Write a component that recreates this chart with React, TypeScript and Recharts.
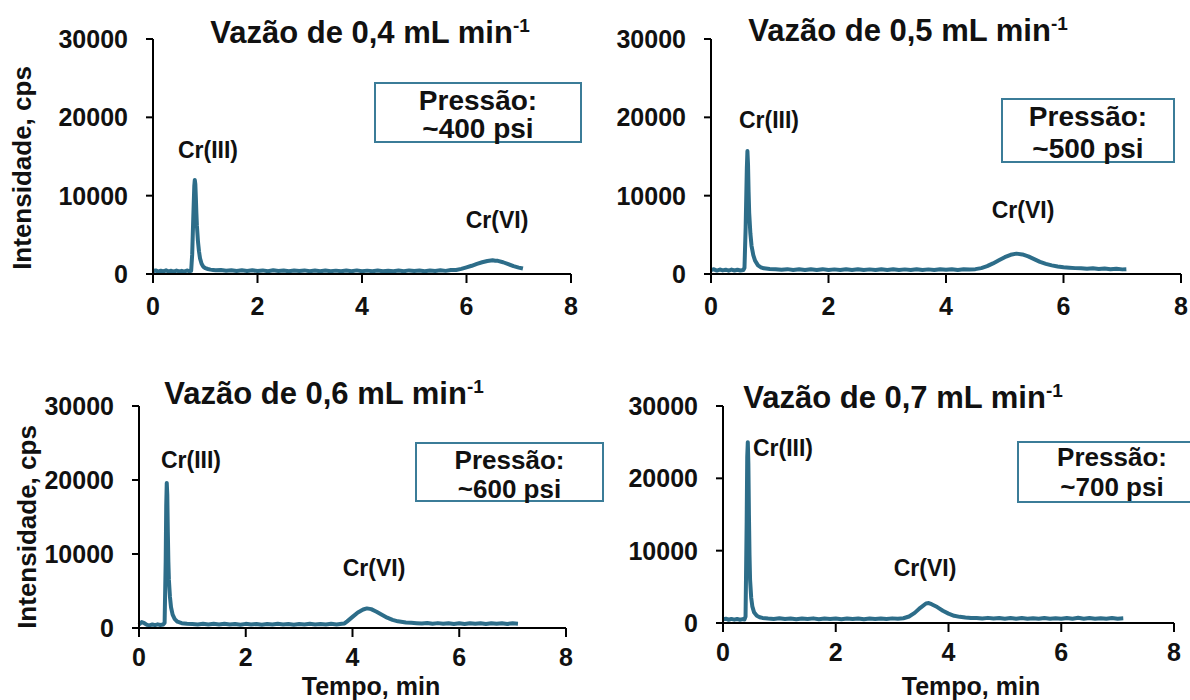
import React from 'react';
import { LineChart, Line, XAxis, YAxis } from 'recharts';

// Chromatogram readings [tempo (min), intensidade (cps)]
const flow04: [number, number][] = [
  [0, 350], [0.05, 460], [0.1, 300], [0.15, 420], [0.2, 340], [0.25, 470], [0.3, 320], [0.35, 410],
  [0.4, 300], [0.45, 440], [0.5, 330], [0.55, 400], [0.6, 310], [0.65, 450], [0.7, 340], [0.73, 400],
  [0.75, 2500], [0.77, 7000], [0.79, 11200], [0.8, 12000], [0.81, 11500], [0.82, 9800], [0.83, 7800],
  [0.84, 6200], [0.86, 4200], [0.88, 2900], [0.9, 2000], [0.93, 1300], [0.96, 950], [1.0, 750],
  [1.05, 640], [1.1, 560], [1.15, 520], [1.2, 480], [1.3, 520], [1.4, 410], [1.5, 490], [1.6, 390],
  [1.7, 480], [1.8, 380], [1.9, 470], [2.0, 370], [2.1, 460], [2.2, 360], [2.3, 480], [2.4, 380],
  [2.5, 450], [2.6, 350], [2.7, 450], [2.8, 370], [2.9, 460], [3.0, 360], [3.1, 440], [3.2, 350],
  [3.3, 450], [3.4, 360], [3.5, 430], [3.6, 340], [3.7, 440], [3.8, 360], [3.9, 460], [4.0, 350],
  [4.1, 430], [4.2, 360], [4.3, 450], [4.4, 350], [4.5, 420], [4.6, 340], [4.7, 440], [4.8, 360],
  [4.9, 460], [5.0, 370], [5.1, 440], [5.2, 360], [5.3, 450], [5.4, 380], [5.5, 470], [5.6, 400],
  [5.7, 500], [5.8, 520], [5.9, 650], [6.0, 850], [6.1, 1050], [6.2, 1300], [6.3, 1500], [6.4, 1650],
  [6.5, 1750], [6.55, 1700], [6.6, 1680], [6.7, 1500], [6.8, 1250], [6.9, 1000], [7.0, 820], [7.08, 700],
];

const flow05: [number, number][] = [
  [0, 500], [0.05, 600], [0.1, 440], [0.15, 570], [0.2, 460], [0.25, 550], [0.3, 430], [0.35, 560],
  [0.4, 450], [0.45, 540], [0.5, 440], [0.55, 500], [0.57, 800], [0.59, 6000], [0.61, 13500],
  [0.62, 15700], [0.63, 14000], [0.64, 10500], [0.65, 7800], [0.67, 5200], [0.69, 3600], [0.72, 2400],
  [0.75, 1700], [0.8, 1100], [0.85, 850], [0.9, 720], [1.0, 640], [1.1, 600], [1.2, 540], [1.3, 620],
  [1.4, 510], [1.5, 600], [1.6, 500], [1.7, 610], [1.8, 520], [1.9, 620], [2.0, 510], [2.1, 590],
  [2.2, 500], [2.3, 610], [2.4, 520], [2.5, 600], [2.6, 500], [2.7, 590], [2.8, 510], [2.9, 610],
  [3.0, 520], [3.1, 600], [3.2, 500], [3.3, 590], [3.4, 510], [3.5, 610], [3.6, 520], [3.7, 590],
  [3.8, 510], [3.9, 610], [4.0, 530], [4.1, 620], [4.2, 520], [4.3, 600], [4.4, 560], [4.5, 620],
  [4.6, 750], [4.7, 1000], [4.8, 1350], [4.9, 1750], [5.0, 2150], [5.1, 2450], [5.2, 2600],
  [5.3, 2500], [5.4, 2250], [5.5, 1900], [5.6, 1550], [5.7, 1300], [5.8, 1100], [5.9, 950],
  [6.0, 850], [6.1, 800], [6.2, 750], [6.3, 720], [6.4, 660], [6.5, 720], [6.6, 630], [6.7, 700],
  [6.8, 600], [6.9, 680], [7.0, 590], [7.07, 620],
];

const flow06: [number, number][] = [
  [0, 450], [0.05, 800], [0.1, 650], [0.15, 420], [0.2, 360], [0.25, 480], [0.3, 380], [0.35, 490],
  [0.4, 400], [0.45, 460], [0.48, 700], [0.5, 9000], [0.51, 16500], [0.52, 19600], [0.53, 18000],
  [0.54, 13000], [0.55, 9000], [0.56, 6500], [0.58, 4200], [0.6, 2800], [0.63, 1800], [0.67, 1200],
  [0.72, 850], [0.8, 650], [0.9, 580], [1.0, 540], [1.1, 480], [1.2, 570], [1.3, 460], [1.4, 560],
  [1.5, 470], [1.6, 570], [1.7, 460], [1.8, 550], [1.9, 450], [2.0, 560], [2.1, 470], [2.2, 550],
  [2.3, 450], [2.4, 540], [2.5, 460], [2.6, 560], [2.7, 470], [2.8, 550], [2.9, 450], [3.0, 540],
  [3.1, 460], [3.2, 560], [3.3, 470], [3.4, 540], [3.5, 460], [3.6, 560], [3.7, 480], [3.8, 570],
  [3.85, 620], [3.9, 900], [4.0, 1500], [4.1, 2100], [4.2, 2500], [4.27, 2650], [4.35, 2550],
  [4.45, 2200], [4.55, 1800], [4.65, 1400], [4.75, 1100], [4.85, 900], [5.0, 750], [5.1, 700],
  [5.2, 650], [5.3, 600], [5.4, 680], [5.5, 580], [5.6, 660], [5.7, 560], [5.8, 650], [5.9, 550],
  [6.0, 640], [6.1, 550], [6.2, 650], [6.3, 560], [6.4, 640], [6.5, 550], [6.6, 650], [6.7, 560],
  [6.8, 640], [6.9, 550], [7.0, 630], [7.1, 580],
];

const flow07: [number, number][] = [
  [0, 500], [0.05, 590], [0.1, 450], [0.15, 570], [0.2, 460], [0.25, 560], [0.3, 450], [0.35, 540],
  [0.38, 480], [0.4, 900], [0.42, 14000], [0.43, 23000], [0.44, 25000], [0.45, 22000], [0.46, 15000],
  [0.47, 9500], [0.48, 6000], [0.5, 3500], [0.52, 2300], [0.55, 1500], [0.6, 1000], [0.65, 800],
  [0.7, 700], [0.8, 620], [0.9, 560], [1.0, 650], [1.1, 540], [1.2, 630], [1.3, 530], [1.4, 620],
  [1.5, 540], [1.6, 640], [1.7, 530], [1.8, 620], [1.9, 540], [2.0, 630], [2.1, 530], [2.2, 620],
  [2.3, 540], [2.4, 630], [2.5, 530], [2.6, 620], [2.7, 540], [2.8, 630], [2.9, 550], [3.0, 640],
  [3.1, 590], [3.2, 660], [3.3, 900], [3.4, 1400], [3.5, 2100], [3.6, 2700], [3.65, 2750],
  [3.7, 2600], [3.8, 2200], [3.9, 1700], [4.0, 1300], [4.1, 1000], [4.2, 850], [4.3, 760],
  [4.4, 700], [4.5, 680], [4.6, 620], [4.7, 710], [4.8, 610], [4.9, 700], [5.0, 600], [5.1, 690],
  [5.2, 590], [5.3, 680], [5.4, 580], [5.5, 670], [5.6, 580], [5.7, 680], [5.8, 590], [5.9, 670],
  [6.0, 580], [6.1, 680], [6.2, 590], [6.3, 720], [6.4, 600], [6.5, 680], [6.6, 580], [6.7, 670],
  [6.8, 590], [6.9, 680], [7.0, 600], [7.1, 650],
];

const xTicks = [0, 2, 4, 6, 8];
const yTicks = [0, 10000, 20000, 30000];
const flowLabels = ['0,4', '0,5', '0,6', '0,7'];
const pressureLabels = ['~400 psi', '~500 psi', '~600 psi', '~700 psi'];

const LINE = '#2d6d89';
const BOX = '#3b7c98';
const FONT = '"Liberation Sans", Arial, Helvetica, sans-serif';

// places text so that its cap-height middle sits at (cx, cy)
const Txt: React.FC<{ cx: number; cy: number; size: number; children: React.ReactNode; rotate?: boolean }> = ({
  cx, cy, size, children, rotate,
}) => (
  <div
    style={{
      position: 'absolute',
      left: cx,
      top: rotate ? cy : cy - size * 0.49,
      fontSize: size,
      lineHeight: `${size}px`,
      fontWeight: 'bold',
      fontFamily: FONT,
      color: '#111',
      whiteSpace: 'nowrap',
      transform: rotate ? 'translate(-50%, -50%) rotate(-90deg)' : 'translateX(-50%)',
    }}
  >
    {children}
  </div>
);

interface PanelProps {
  data: [number, number][];
  left: number;
  top: number;
  width: number;
  height: number;
  tickGap: number;
  margin: { top: number; right: number; bottom: number; left: number };
}

const Panel: React.FC<PanelProps> = ({ data, left, top, width, height, tickGap, margin }) => {
  const rows = data.map(([t, v]) => ({ t, v }));
  const tickStyle = { fontSize: 25, fontWeight: 'bold', fill: '#111', fontFamily: FONT };
  return (
    <div style={{ position: 'absolute', left, top }}>
      <LineChart width={width} height={height} data={rows} margin={margin}>
        <XAxis
          type="number"
          dataKey="t"
          domain={[0, 8]}
          ticks={xTicks}
          interval={0}
          tickSize={9}
          tickMargin={tickGap}
          height={40}
          tick={tickStyle}
          axisLine={{ stroke: '#000', strokeWidth: 2 }}
          tickLine={{ stroke: '#000', strokeWidth: 2 }}
        />
        <YAxis
          type="number"
          domain={[0, 30000]}
          ticks={yTicks}
          interval={0}
          width={100}
          tickSize={7}
          tickMargin={18}
          tick={tickStyle}
          axisLine={{ stroke: '#000', strokeWidth: 2 }}
          tickLine={{ stroke: '#000', strokeWidth: 2 }}
        />
        <Line
          type="linear"
          dataKey="v"
          stroke={LINE}
          strokeWidth={4}
          strokeLinejoin="round"
          dot={false}
          activeDot={false}
          isAnimationActive={false}
        />
      </LineChart>
    </div>
  );
};

const Title: React.FC<{ cx: number; cy: number; flow: string }> = ({ cx, cy, flow }) => (
  <Txt cx={cx} cy={cy} size={31}>
    Vazão de {flow} mL min<span style={{ fontSize: 19, position: 'relative', top: -11 }}>-1</span>
  </Txt>
);

const PressureBox: React.FC<{ x: number; y: number; w: number; h: number; size: number; l1: number; l2: number; text: string }> = ({
  x, y, w, h, size, l1, l2, text,
}) => (
  <>
    <div
      style={{
        position: 'absolute',
        left: x,
        top: y,
        width: w,
        height: h,
        border: `2px solid ${BOX}`,
        boxSizing: 'border-box',
        background: '#fff',
      }}
    />
    <Txt cx={x + w / 2} cy={l1} size={size}>Pressão:</Txt>
    <Txt cx={x + w / 2} cy={l2} size={size}>{text}</Txt>
  </>
);

const App: React.FC = () => {
  return (
    <div style={{ position: 'absolute', left: 0, top: 0, width: 1190, height: 700, background: '#fff', overflow: 'hidden' }}>
      {/* top left */}
      <Panel data={flow04} left={0} top={0} width={595} height={345} tickGap={14} margin={{ top: 39, right: 24, bottom: 31, left: 53 }} />
      {/* top right */}
      <Panel data={flow05} left={595} top={0} width={595} height={345} tickGap={14} margin={{ top: 39, right: 9, bottom: 31, left: 16 }} />
      {/* bottom left */}
      <Panel data={flow06} left={0} top={345} width={595} height={355} tickGap={11} margin={{ top: 61, right: 29, bottom: 32, left: 39 }} />
      {/* bottom right */}
      <Panel data={flow07} left={595} top={345} width={595} height={355} tickGap={11} margin={{ top: 61, right: 16, bottom: 37, left: 28 }} />

      <Title cx={370} cy={32} flow={flowLabels[0]} />
      <Title cx={908} cy={30} flow={flowLabels[1]} />
      <Title cx={324} cy={393} flow={flowLabels[2]} />
      <Title cx={903} cy={397} flow={flowLabels[3]} />

      <PressureBox x={374} y={82} w={208} h={61} size={28} l1={101} l2={129} text={pressureLabels[0]} />
      <PressureBox x={1001} y={98} w={174} h={65} size={28} l1={117} l2={149} text={pressureLabels[1]} />
      <PressureBox x={415} y={442} w={189} h={60} size={26} l1={460} l2={489} text={pressureLabels[2]} />
      <PressureBox x={1017} y={441} w={190} h={62} size={26} l1={457} l2={487} text={pressureLabels[3]} />

      <Txt cx={208} cy={150} size={23}>Cr(III)</Txt>
      <Txt cx={497} cy={220} size={23}>Cr(VI)</Txt>
      <Txt cx={769} cy={120} size={23}>Cr(III)</Txt>
      <Txt cx={1023} cy={210} size={23}>Cr(VI)</Txt>
      <Txt cx={191} cy={460} size={23}>Cr(III)</Txt>
      <Txt cx={374} cy={568} size={23}>Cr(VI)</Txt>
      <Txt cx={783} cy={448} size={23}>Cr(III)</Txt>
      <Txt cx={925} cy={568} size={23}>Cr(VI)</Txt>

      <Txt cx={22} cy={168} size={26} rotate>Intensidade, cps</Txt>
      <Txt cx={27} cy={527} size={26} rotate>Intensidade, cps</Txt>
      <Txt cx={371} cy={686} size={25}>Tempo, min</Txt>
      <Txt cx={971} cy={686} size={25}>Tempo, min</Txt>
    </div>
  );
};

export default App;
